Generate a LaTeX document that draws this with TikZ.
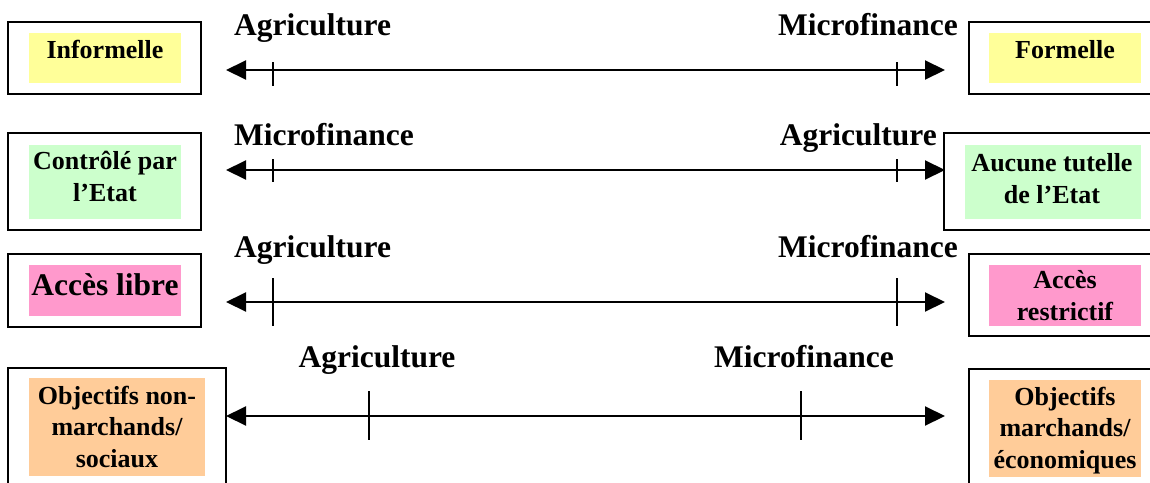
\documentclass[tikz,border=0pt]{standalone}
\usepackage{fontspec}
\setmainfont{Liberation Serif}
\usetikzlibrary{arrows.meta, positioning}
\definecolor{FillYellow}{RGB}{255,255,153}
\definecolor{FillGreen}{RGB}{204,255,204}
\definecolor{FillPink}{RGB}{255,153,204}
\definecolor{FillOrange}{RGB}{255,204,153}

\begin{document}
\begin{tikzpicture}[x=1pt, y=-1pt,
  outerbox/.style={draw, line width=2pt, inner sep=0pt},
  fillbox/.style={fill=#1, inner sep=0pt},
  boxtext/.style={font=\bfseries\fontsize{26}{31.5}\selectfont, align=center, inner sep=0pt},
  sector/.style={font=\bfseries\fontsize{31.5}{36}\selectfont, inner sep=0pt},
  axis/.style={{Triangle[length=20pt,width=19pt]}-{Triangle[length=20pt,width=19pt]}, line width=2pt},
  tickline/.style={line width=1.6pt}]
\useasboundingbox (0,0) rectangle (1150,482);

% axes with their ticks
\foreach \n/\y/\xa/\xb/\up/\dn in {1/70/273/897/8/16, 2/170/273/897/11/12, 3/302/273/897/24/24, 4/416/369/801/25/24} {
  \coordinate (axl\n) at (226,\y);
  \coordinate (axr\n) at (945,\y);
  \draw[axis] (axl\n) -- (axr\n);
  \draw[tickline] (\xa,\y-\up) -- (\xa,\y+\dn);
  \draw[tickline] (\xb,\y-\up) -- (\xb,\y+\dn);
}

% row 1
\node[outerbox, minimum width=193, minimum height=72] (informout) at (104.5,58) {};
\node[fillbox=FillYellow, minimum width=152, minimum height=50] (informfill) at (informout.center) {};
\node[boxtext, anchor=base] (informtxt) at (105,58) {Informelle};
\node[outerbox, minimum width=193, minimum height=72] (formout) at (1065,58) {};
\node[fillbox=FillYellow, minimum width=152, minimum height=50] (formfill) at (formout.center) {};
\node[boxtext, anchor=base] (formtxt) at (1065,58) {Formelle};
\node[sector, anchor=base west] (agri1) at (234,35) {Agriculture};
\node[sector, anchor=base east] (micro1) at (958,35) {Microfinance};

% row 2 (base = last line)
\node[outerbox, minimum width=193, minimum height=97] (etatout) at (104.5,181.5) {};
\node[fillbox=FillGreen, minimum width=152, minimum height=74] (etatfill) at (105,182) {};
\node[boxtext, anchor=base] (etattxt) at (105,201) {Contrôlé par\\l’Etat};
\node[outerbox, minimum width=218, minimum height=97] (tutout) at (1053,181) {};
\node[fillbox=FillGreen, minimum width=176, minimum height=74] (tutfill) at (1053,182) {};
\node[boxtext, anchor=base] (tuttxt) at (1052,203) {Aucune tutelle\\de l’Etat};
\node[sector, anchor=base west] (micro2) at (234,145) {Microfinance};
\node[sector, anchor=base east] (agri2) at (937,145) {Agriculture};

% row 3
\node[outerbox, minimum width=193, minimum height=73] (libreout) at (104.5,290.5) {};
\node[fillbox=FillPink, minimum width=152, minimum height=51] (librefill) at (libreout.center) {};
\node[sector, anchor=base] (libretxt) at (105,295) {Accès libre};
\node[outerbox, minimum width=193, minimum height=82] (restout) at (1065,295) {};
\node[fillbox=FillPink, minimum width=152, minimum height=61] (restfill) at (1065,295.5) {};
\node[boxtext, anchor=base] (resttxt) at (1065,320) {Accès\\restrictif};
\node[sector, anchor=base west] (agri3) at (234,257) {Agriculture};
\node[sector, anchor=base east] (micro3) at (958,257) {Microfinance};

% row 4
\node[outerbox, minimum width=218, minimum height=120] (socout) at (117,428) {};
\node[fillbox=FillOrange, minimum width=176, minimum height=98] (socfill) at (117,427) {};
\node[boxtext, anchor=base] (soctxt) at (117,467) {Objectifs non-\\marchands/\\sociaux};
\node[outerbox, minimum width=192, minimum height=120] (ecoout) at (1065,429) {};
\node[fillbox=FillOrange, minimum width=152, minimum height=97] (ecofill) at (1065,428.5) {};
\node[boxtext, anchor=base] (ecotxt) at (1065,468) {Objectifs\\marchands/\\économiques};
\node[sector, anchor=base] (agri4) at (377,367) {Agriculture};
\node[sector, anchor=base] (micro4) at (804,367) {Microfinance};
\end{tikzpicture}
\end{document}
